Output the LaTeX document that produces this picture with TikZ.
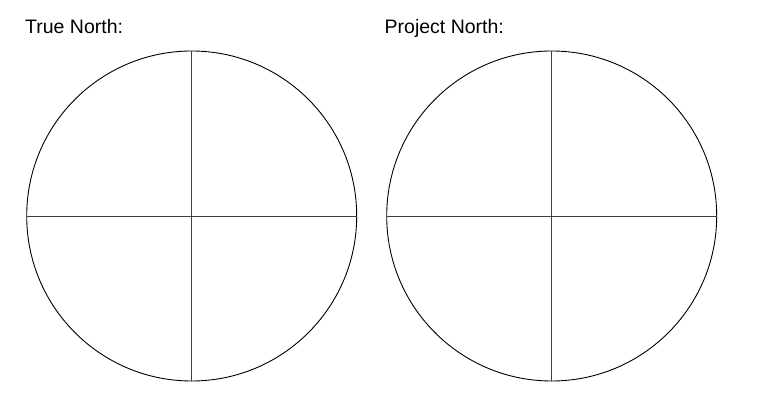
\documentclass[tikz,border=0pt]{standalone}
\usepackage{fontspec}
\setmainfont{Liberation Sans}
\begin{document}
\begin{tikzpicture}[x=1pt,y=1pt,
  dial/.style={circle,draw=black,line width=0.9pt,minimum size=330pt,inner sep=0pt,outer sep=0pt},
  cross/.style={draw=black!75,line width=0.9pt},
  title/.style={anchor=base west,inner sep=0pt,font=\fontsize{19.5}{22}\selectfont}]
\useasboundingbox (0,0) rectangle (760,393);
\node[title] (t1) at (25,359.7) {True North:};
\node[title] (t2) at (384.5,359.7) {Project North:};
\node[dial] (c1) at (191.7,177) {};
\node[dial] (c2) at (551.7,177) {};
\foreach \c in {c1,c2}{
  \draw[cross] (\c.north) -- (\c.south);
  \draw[cross] (\c.west) -- (\c.east);
}
\end{tikzpicture}
\end{document}
